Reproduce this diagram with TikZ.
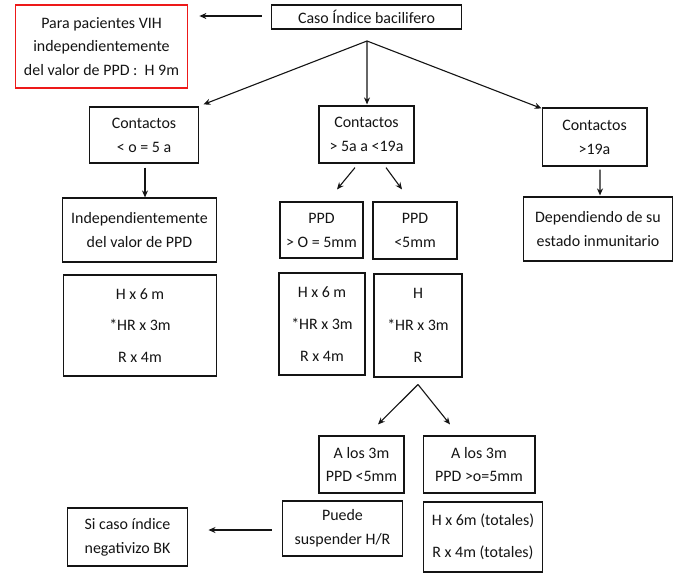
\documentclass[tikz,border=0pt]{standalone}
\usepackage{fontspec}
\setmainfont{Carlito}
\usetikzlibrary{arrows.meta,calc}
\definecolor{boxred}{rgb}{0.93,0.1,0.1}
\definecolor{ink}{rgb}{0.08,0.08,0.08}
\begin{document}
\begin{tikzpicture}[x=1bp,y=-1bp,
  box/.style={draw=ink, line width=1.4bp, align=center, inner sep=0pt, text=ink,
    font=\fontsize{16}{24}\selectfont},
  tall/.style={font=\fontsize{16}{32}\selectfont},
  redbox/.style={align=center, inner sep=0pt, text=ink, font=\fontsize{16}{24}\selectfont,
    draw=boxred, line width=1.4bp},
  arr/.style={-{Stealth[length=7bp,width=6bp]}, line width=1.1bp, draw=ink}]
\useasboundingbox (0,0) rectangle (675,574);
\fill[white] (0,0) rectangle (675,574);

\node[redbox, minimum width=173, minimum height=83] (red) at (101.5,46.5) {Para pacientes VIH\\independientemente\\del valor de PPD :\ \ H 9m};
\node[box, minimum width=191, minimum height=24] (caso) at (366.5,17) {Caso Índice bacilifero};

\node[box, minimum width=110, minimum height=56] (c1) at (144,135) {Contactos\\< o = 5 a};
\node[box, minimum width=95, minimum height=57] (c2) at (366.5,134.5) {Contactos\\> 5a a <19a};
\node[box, minimum width=105, minimum height=58] (c3) at (594.5,137) {Contactos\\>19a};

\node[box, minimum width=155, minimum height=64] (ind) at (139.5,230) {Independientemente\\del valor de PPD};
\node[box, minimum width=83, minimum height=56] (p1) at (321.5,230) {PPD\\> O = 5mm};
\node[box, minimum width=84, minimum height=57] (p2) at (415,230.5) {PPD\\<5mm};
\node[box, minimum width=150, minimum height=64] (dep) at (598,229) {Dependiendo de su\\estado inmunitario};

\node[box, tall, minimum width=154, minimum height=101] (hl) at (140,325.5) {H x 6 m\\*HR x 3m\\R x 4m};
\node[box, tall, minimum width=86, minimum height=102] (hc) at (322,324) {H x 6 m\\*HR x 3m\\R x 4m};
\node[box, tall, minimum width=88, minimum height=103] (hr) at (418,325.5) {H\\*HR x 3m\\R};

\node[box, minimum width=85, minimum height=57] (a1) at (361.5,464.5) {A los 3m\\PPD <5mm};
\node[box, minimum width=112, minimum height=57] (a2) at (479,464.5) {A los 3m\\PPD >o=5mm};
\node[box, minimum width=121, minimum height=55] (pu) at (342.5,528.5) {Puede\\suspender H/R};
\node[box, tall, minimum width=120, minimum height=70] (tot) at (483,537) {H x 6m (totales)\\R x 4m (totales)};
\node[box, minimum width=121, minimum height=58] (si) at (127.5,537) {Si caso índice\\negativizo BK};

% connectors
\draw[arr] ($(caso.west)+(-9,-1)$) -- ($(caso.west -| red.east)+(11,-1)$);
\coordinate (apex) at (367,41);
\draw[arr] (apex) -- ($(c1.north east)+(4,-2)$);
\draw[arr] (apex) -- ($(c2.north)+(0.5,-1)$);
\draw[arr] (apex) -- ($(c3.north west)+(0,1)$);

\draw[arr] ($(c1.south)+(1,4)$) -- ($(c1.south |- ind.north)+(1,0)$);
\draw[arr] ($(c2.south)+(-11.5,4)$) -- ($(p1.north)+(15.5,-12)$);
\draw[arr] ($(c2.south)+(19.5,4)$) -- ($(p2.north)+(-13,-12)$);
\draw[arr] ($(c3.south)+(5.5,3)$) -- ($(dep.north)+(2,-1)$);

\coordinate (apex2) at ($(hr.south)+(0,7)$);
\draw[arr] (apex2) -- ($(a1.north)+(16.5,-11)$);
\draw[arr] (apex2) -- ($(a2.north)+(-29,-11)$);

\draw[arr] ($(pu.west)+(-10,1.5)$) -- ($(pu.west -| si.east)+(20,1.5)$);
\end{tikzpicture}
\end{document}
